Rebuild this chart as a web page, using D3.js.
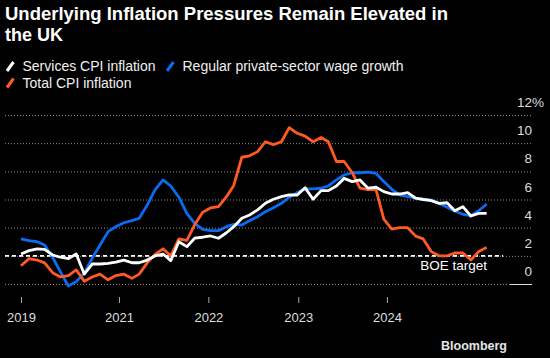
<!DOCTYPE html>
<html>
<head>
<meta charset="utf-8">
<script src="https://cdn.jsdelivr.net/npm/d3@7"></script>
<style>
  html, body { margin: 0; padding: 0; background: #000; }
  svg { display: block; }
  text { font-family: "Liberation Sans", Arial, sans-serif; }
</style>
</head>
<body>
<svg id="chart" width="550" height="358"></svg>
<script>
// ---- Data (monthly, Dec 2019 .. Nov 2024) ----
const startMonth = "2019-12-01";
const servicesCPI = [2.13,2.37,2.49,2.46,2.06,1.9,1.8,2.13,0.71,1.42,1.42,1.47,
  1.56,1.7,1.51,1.51,1.7,1.99,2.13,1.66,3.0,2.65,3.25,3.32,
  3.41,3.25,3.64,4.07,4.67,4.9,5.26,5.73,6.02,6.2,6.32,6.32,
  6.84,6.02,6.63,6.63,6.96,7.5,7.27,7.39,6.8,6.87,6.56,6.39,
  6.39,6.49,6.09,6.0,5.92,5.73,5.77,5.2,5.49,4.83,5.02,5.02];
const wageGrowth = [3.2,3.08,3.0,2.77,1.9,0.87,-0.14,0.17,0.76,1.83,2.77,3.72,
  4.07,4.35,4.5,4.67,5.6,6.68,7.39,6.96,6.16,5.02,4.31,3.88,
  3.79,3.79,4.07,4.24,4.19,4.5,4.78,5.13,5.42,5.73,6.16,6.49,
  6.75,6.75,6.8,6.96,7.39,7.74,7.9,7.9,7.95,7.85,7.27,6.72,
  6.32,6.2,6.09,6.02,5.97,5.73,5.45,5.18,4.95,4.85,5.2,5.68];
const totalCPI = [1.3,1.8,1.7,1.5,0.8,0.5,0.6,1.0,0.2,0.5,0.7,0.3,
  0.6,0.7,0.4,0.7,1.5,2.1,2.5,2.0,3.2,3.1,4.2,5.1,
  5.4,5.5,6.2,7.0,9.0,9.1,9.4,10.1,9.9,10.1,11.1,10.7,
  10.5,10.1,10.4,10.1,8.7,8.7,7.9,6.8,6.7,6.7,4.6,3.9,
  4.0,4.0,3.4,3.2,2.3,2.0,2.0,2.2,2.2,1.7,2.3,2.6];
const xTickDates = ["2019-12-01","2020-12-13","2021-11-23","2022-11-05","2023-10-13"];
const xTickLabels = ["2019","2021","2022","2023","2024"];
const yTicks = [0,2,4,6,8,10,12];
const boeTarget = 2;
const seriesNames = ["Services CPI inflation","Regular private-sector wage growth","Total CPI inflation"];
const seriesColors = ["#ffffff","#0a6cf2","#ff5a22"];

// ---- Setup ----
const svg = d3.select("#chart");
const W = 550, H = 358;
svg.append("rect").attr("width", W).attr("height", H).attr("fill", "#000");

const parse = d3.utcParse("%Y-%m-%d");
const t0 = parse(startMonth);
const dates = servicesCPI.map((_, i) => d3.utcMonth.offset(t0, i));

const x = d3.scaleUtc().domain([dates[0], dates[dates.length - 1]]).range([21, 486.7]);
const y = d3.scaleLinear().domain([0, 12]).range([284, 115]);

const gridLeft = 5, gridRight = 531;

// Title
const title = svg.append("text").attr("fill", "#fff").attr("font-weight", "bold").attr("font-size", 18);
title.append("tspan").attr("x", 5).attr("y", 19.5).attr("textLength", 443).attr("lengthAdjust", "spacingAndGlyphs")
  .text("Underlying Inflation Pressures Remain Elevated in");
title.append("tspan").attr("x", 5).attr("y", 41).text("the UK");

// Legend
const legendItems = [
  {name: seriesNames[0], color: seriesColors[0], x: 6, y: 71},
  {name: seriesNames[1], color: seriesColors[1], x: 166, y: 71},
  {name: seriesNames[2], color: seriesColors[2], x: 6, y: 87.5}
];
const lg = svg.append("g");
legendItems.forEach(it => {
  lg.append("line").attr("x1", it.x + 1).attr("y1", it.y).attr("x2", it.x + 7.5).attr("y2", it.y - 9)
    .attr("stroke", it.color).attr("stroke-width", 3);
  lg.append("text").attr("x", it.x + 16.5).attr("y", it.y).attr("fill", "#f0f0f0").attr("font-size", 14).text(it.name);
});

// Gridlines
const grid = svg.append("g");
yTicks.forEach(v => {
  grid.append("line").attr("x1", gridLeft).attr("x2", v === 0 ? 510 : gridRight)
    .attr("y1", y(v) + 0.5).attr("y2", y(v) + 0.5)
    .attr("stroke", "#8c8c8c").attr("stroke-width", 1).attr("stroke-dasharray", "1,2");
});
// Solid zero marker near label
svg.append("line").attr("x1", 510).attr("x2", 532).attr("y1", y(0) + 0.5).attr("y2", y(0) + 0.5)
  .attr("stroke", "#dddddd").attr("stroke-width", 1);

// Y labels
const yl = svg.append("g");
yTicks.forEach(v => {
  yl.append("text").attr("x", 532).attr("y", y(v) - 8).attr("text-anchor", "end")
    .attr("fill", "#dddddd").attr("font-size", 13.5).text(v);
  if (v === 12) {
    yl.append("text").attr("x", 532).attr("y", y(v) - 8).attr("fill", "#dddddd").attr("font-size", 13.5).text("%");
  }
});

// BOE target line
svg.append("line").attr("x1", gridLeft).attr("x2", 503).attr("y1", y(boeTarget)).attr("y2", y(boeTarget))
  .attr("stroke", "#ffffff").attr("stroke-width", 1.6).attr("stroke-dasharray", "4,3");
svg.append("text").attr("x", 487).attr("y", 269.5).attr("text-anchor", "end").attr("fill", "#fff")
  .attr("font-size", 13.5).text("BOE target");

// X axis
const xAxis = d3.axisBottom(x)
  .tickValues(xTickDates.map(parse))
  .tickFormat((d, i) => xTickLabels[i])
  .tickSize(6).tickPadding(4);
const gx = svg.append("g").attr("transform", "translate(0,297)").call(xAxis);
gx.select(".domain").remove();
gx.selectAll(".tick line").attr("stroke", "#aaaaaa");
gx.selectAll(".tick text").attr("fill", "#dddddd").attr("font-size", 13)
  .attr("font-family", "'Liberation Sans', Arial, sans-serif").attr("dy", "0").attr("y", 24.5);

// Lines
const line = d3.line().x((d, i) => x(dates[i])).y(d => y(d)).curve(d3.curveLinear);
const drawOrder = [
  {data: wageGrowth, color: seriesColors[1]},
  {data: totalCPI, color: seriesColors[2]},
  {data: servicesCPI, color: seriesColors[0]}
];
drawOrder.forEach(s => {
  svg.append("path").datum(s.data).attr("d", line).attr("fill", "none")
    .attr("stroke", s.color).attr("stroke-width", 2.8).attr("stroke-linejoin", "round");
});

// Source
svg.append("text").attr("x", 507).attr("y", 349.5).attr("text-anchor", "end").attr("fill", "#e6e6e6")
  .attr("font-weight", "bold").attr("font-size", 12.5).text("Bloomberg");
</script>
</body>
</html>
